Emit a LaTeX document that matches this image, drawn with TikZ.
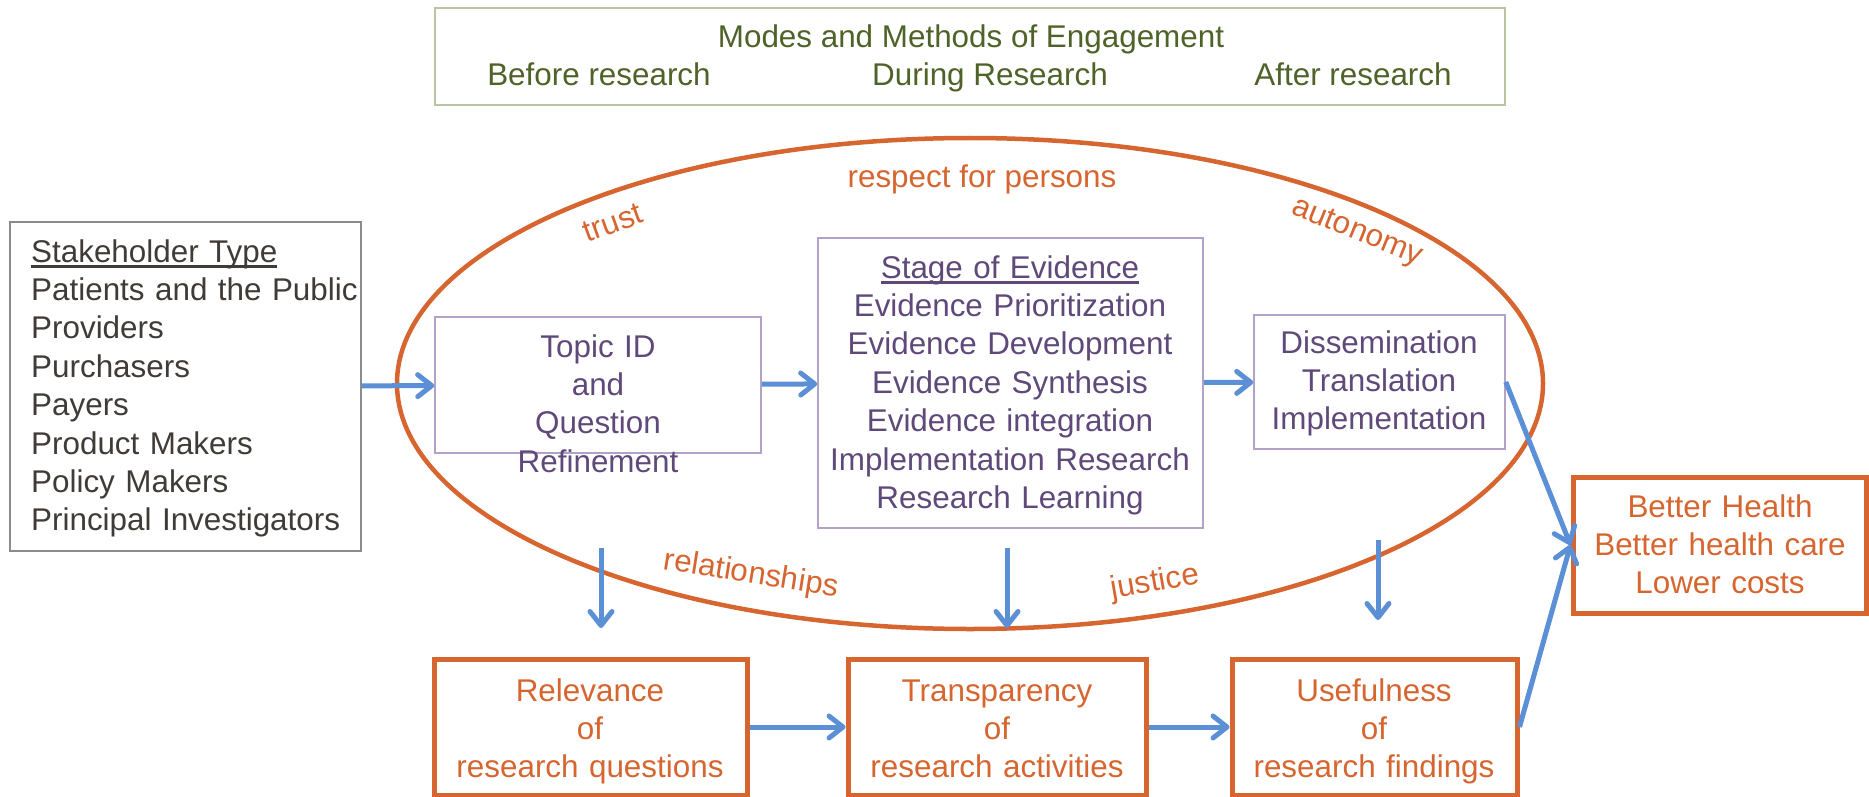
\documentclass[tikz,border=0pt]{standalone}
\usepackage{fontspec}
\setmainfont{Liberation Sans}
\usepackage{tikz}
\usetikzlibrary{arrows.meta,positioning}
\definecolor{olivetxt}{HTML}{4F6228}
\definecolor{oliveline}{HTML}{B9C4A2}
\definecolor{graytxt}{HTML}{403B37}
\definecolor{grayline}{HTML}{8C8C8C}
\definecolor{purpletxt}{HTML}{5F497A}
\definecolor{purpleline}{HTML}{B3A2C7}
\definecolor{rimorange}{HTML}{D6652F}
\definecolor{flowblue}{HTML}{5B8FD6}
\newcommand{\bodysize}{\fontsize{31.4pt}{38.4pt}\selectfont}
\newcommand{\undl}[1]{\setbox0\hbox{#1}\rlap{\rule[-5.5pt]{\wd0}{2.2pt}}\box0}

\begin{document}
\begin{tikzpicture}[x=1pt, y=-1pt,
    every node/.style={font=\bodysize, inner sep=0pt},
    plainbox/.style={draw=#1, line width=1.6pt, fill=white},
    goalbox/.style={draw=rimorange, line width=5pt, fill=white},
    goaltxt/.style={rimorange, text width=290pt, align=center, anchor=base},
    stagetxt/.style={purpletxt, align=center, anchor=base},
    valuetxt/.style={rimorange},
    flow/.style={flowblue, line width=5pt, -{Straight Barb[length=14pt,width=22pt,round]}}]
    \useasboundingbox (0,0) rectangle (1869,797);

    % Modes and methods
    \node[plainbox=oliveline, minimum width=1070pt, minimum height=97pt] (modes) at (970,56.5) {};
    \node[olivetxt, anchor=base] (modestitle) at (971,48) {Modes and Methods of Engagement};
    \node[olivetxt, anchor=base] (before) at (599,86) {Before research};
    \node[olivetxt, anchor=base] (during) at (990,86) {During Research};
    \node[olivetxt, anchor=base] (after) at (1353,86) {After research};

    % Stakeholders
    \node[plainbox=grayline, minimum width=351pt, minimum height=329pt] (stake) at (185.5,386.5) {};
    \node[graytxt, text width=330pt, align=left, anchor=base west] (staketxt) at (31,262)
        {\undl{Stakeholder Type}\\Patients and the Public\\Providers\\Purchasers\\Payers\\Product Makers\\Policy Makers\\Principal Investigators};

    % Ring of values
    \draw[rimorange, line width=4.5pt] (970,383.5) ellipse [x radius=573pt, y radius=245.5pt];
    \node[valuetxt, anchor=base] (respect) at (982,187) {respect for persons};
    \node[valuetxt, rotate=20] (trust) at (613,223) {trust};
    \node[valuetxt, rotate=-22] (autonomy) at (1357,233) {autonomy};
    \node[valuetxt, rotate=-9] (relations) at (751,575) {relationships};
    \node[valuetxt, rotate=10] (justice) at (1155,583) {justice};

    % Stages
    \node[plainbox=purpleline, minimum width=326pt, minimum height=136pt] (topic) at (598,385) {};
    \node[stagetxt, text width=320pt] (topictxt) at (598,357) {Topic ID\\and\\Question\\Refinement};
    \node[plainbox=purpleline, minimum width=385pt, minimum height=290pt] (stage) at (1010.5,383) {};
    \node[stagetxt, text width=380pt] (stagetext) at (1010,278)
        {\undl{Stage of Evidence}\\Evidence Prioritization\\Evidence Development\\Evidence Synthesis\\Evidence integration\\Implementation Research\\Research Learning};
    \node[plainbox=purpleline, minimum width=251pt, minimum height=134pt] (diss) at (1379.5,382) {};
    \node[stagetxt, text width=245pt] (disstxt) at (1379,353) {Dissemination\\Translation\\Implementation};

    % Outcomes
    \node[goalbox, minimum width=293pt, minimum height=136pt] (better) at (1719.5,545) {};
    \node[goaltxt] (bettertxt) at (1720,517) {Better Health\\Better health care\\Lower costs};
    \node[goalbox, minimum width=313pt, minimum height=136pt] (rel) at (590.5,727) {};
    \node[goaltxt, text width=310pt] (reltxt) at (590,701) {Relevance\\of\\research questions};
    \node[goalbox, minimum width=298pt, minimum height=136pt] (trans) at (997,727) {};
    \node[goaltxt] (transtxt) at (997,701) {Transparency\\of\\research activities};
    \node[goalbox, minimum width=285pt, minimum height=136pt] (use) at (1374.5,727) {};
    \node[goaltxt, text width=280pt] (usetxt) at (1374,701) {Usefulness\\of\\research findings};

    % Flow
    \draw[flow] (stake) -- (topic);
    \draw[flow] (topic) -- (stage);
    \draw[flow] (stage) -- (diss);
    \draw[flow] (diss.east) -- (better.west);
    \draw[flow] (use.east) -- (better.west);
    \draw[flow] (rel) -- (trans);
    \draw[flow] (trans) -- (use);

    % Drops toward the outcomes
    \coordinate (drop1a) at (601,548);
    \coordinate (drop1b) at (601,628);
    \coordinate (drop2a) at (1007,548);
    \coordinate (drop2b) at (1007,628);
    \coordinate (drop3a) at (1378,540);
    \coordinate (drop3b) at (1378,620);
    \draw[flow] (drop1a) -- (drop1b);
    \draw[flow] (drop2a) -- (drop2b);
    \draw[flow] (drop3a) -- (drop3b);
\end{tikzpicture}
\end{document}
